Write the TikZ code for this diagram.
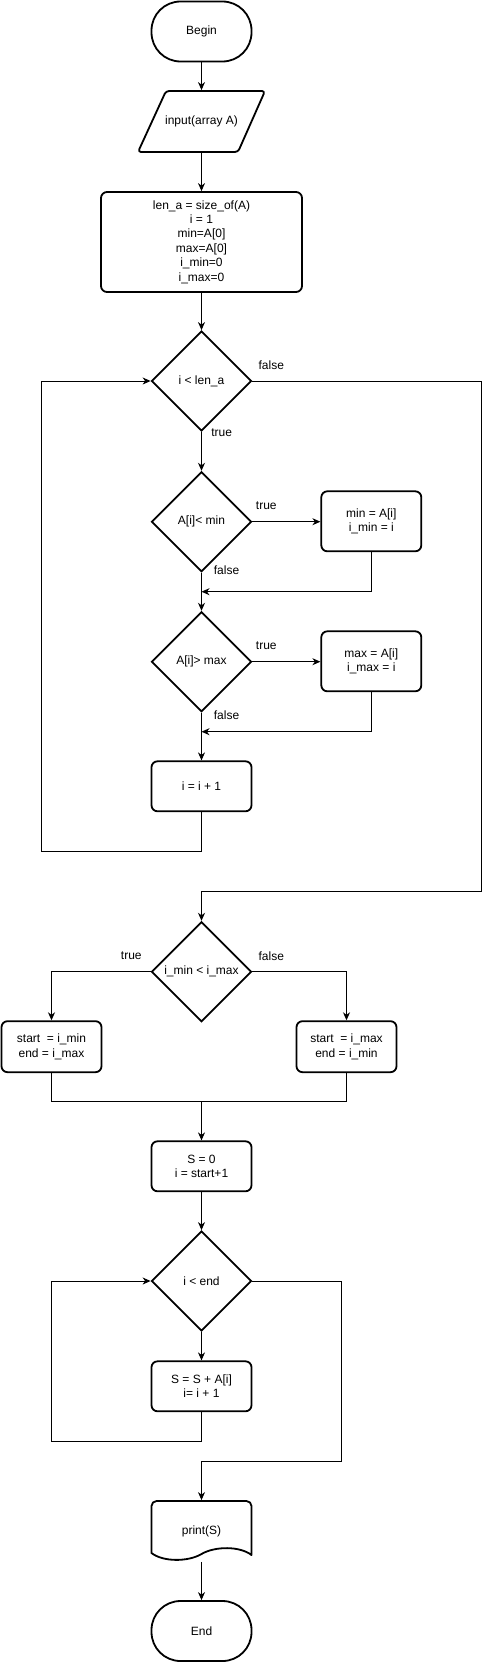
\documentclass[tikz,border=0pt]{standalone}
\usepackage{fontspec}
\setmainfont{Liberation Sans}
\usetikzlibrary{shapes.geometric,arrows.meta}
\begin{document}
\begin{tikzpicture}[x=1pt,y=-1pt,
  every node/.style={font=\fontsize{12}{14.4}\selectfont},
  shp/.style={draw, line width=1.8pt, align=center, inner sep=0pt},
  proc/.style={shp, rectangle, rounded corners=6pt, minimum width=100pt, minimum height=60pt},
  term/.style={shp, rectangle, rounded corners=29pt, minimum width=100pt, minimum height=60pt},
  dec/.style={shp, diamond, minimum width=100pt, minimum height=100pt},
  ghost/.style={rectangle, inner sep=0pt, outer sep=0.9pt, align=center, minimum width=100pt, minimum height=60pt},
  conn/.style={line width=1pt},
  arr/.style={conn, -{Stealth[length=8pt,width=7pt,inset=2.5pt]}},
  lbl/.style={inner sep=0pt},
  outline/.style={line width=1.8pt, line join=round},
]
\useasboundingbox (0,0) rectangle (490,1662);

% nodes
\node[term] (begin) at (201.5,31.5) {Begin};
\node[ghost, minimum height=61pt] (input) at (201.5,121.5) {input(array A)};
\draw[outline, rounded corners=3pt] (166,91) -- (265,91) -- (238,152) -- (138,152) -- cycle;
\node[proc, minimum width=201pt, minimum height=100pt] (init) at (201.5,242)
  {len\_a = size\_of(A)\\ i = 1\\ min=A[0]\\ max=A[0]\\ i\_min=0\\ i\_max=0};
\node[dec] (d1) at (201.5,381) {i < len\_a};
\node[dec] (d2) at (201.5,521.7) {A[i]< min};
\node[proc] (boxmin) at (371.3,521.3) {min = A[i]\\ i\_min = i};
\node[dec] (d3) at (201.5,661.7) {A[i]> max};
\node[proc] (boxmax) at (371.3,661.3) {max = A[i]\\ i\_max = i};
\node[proc, minimum height=50pt] (inc) at (201.5,786.3) {i = i + 1};
\node[dec] (d4) at (201.5,971.7) {i\_min < i\_max};
\node[proc, minimum height=51pt] (lbox) at (51.5,1046.7) {start\ \ = i\_min\\ end = i\_max};
\node[proc, minimum height=51pt] (rbox) at (346.5,1046.7) {start\ \ = i\_max\\ end = i\_min};
\node[proc, minimum height=50pt] (s0) at (201.5,1166.3) {S = 0\\ i = start+1};
\node[dec] (d5) at (201.5,1281) {i < end};
\node[proc, minimum height=50pt] (sum) at (201.5,1386.3) {S = S + A[i]\\ i= i + 1};
\node[ghost] (print) at (201.5,1531) {print(S)};
\draw[outline] (151.5,1553) [rounded corners=5pt]-- (151.5,1501) -- (251.5,1501) -- (251.5,1530) [sharp corners]-- (251.5,1555)
  .. controls (240,1546) and (215,1546) .. (201.5,1554)
  .. controls (188,1562) and (163,1562) .. (151.5,1553) -- cycle;
\node[term] (end) at (201.5,1631) {End};

% labels
\node[lbl] (t1) at (221.7,433) {true};
\node[lbl] (f1) at (271.3,365.7) {false};
\node[lbl] (t2) at (266.3,505.7) {true};
\node[lbl] (f2) at (226.5,570.7) {false};
\node[lbl] (t3) at (266.3,645.7) {true};
\node[lbl] (f3) at (226.5,715.7) {false};
\node[lbl] (t4) at (131.3,955.7) {true};
\node[lbl] (f4) at (271.3,955.7) {false};

% coordinates
\coordinate (j1) at (201.5,591.7);
\coordinate (j2) at (201.5,731.7);
\coordinate (l1a) at (201.5,851);
\coordinate (l1b) at (41.3,381);
\coordinate (r1) at (481.7,381);
\coordinate (r2) at (201.5,891.3);
\coordinate (m) at (201.5,1101);
\coordinate (l2a) at (201.5,1441.3);
\coordinate (l2b) at (51.3,1281);
\coordinate (r3) at (341.3,1281);
\coordinate (r4) at (201.5,1461.3);

% connectors
\draw[arr] (begin) -- (input);
\draw[arr] (input) -- (init);
\draw[arr] (init) -- (d1);
\draw[arr] (d1) -- (d2);
\draw[arr] (d2.east) -- (d2.east -| boxmin.west);
\draw[arr] (boxmin.south) |- (j1);
\draw[arr] (d2) -- (d3);
\draw[arr] (d3.east) -- (d3.east -| boxmax.west);
\draw[arr] (boxmax.south) |- (j2);
\draw[arr] (d3) -- (inc);
\draw[arr] (inc.south) -- (l1a) -| (l1b) -- (d1.west);
\draw[arr] (d1.east) -- (r1) |- (r2) -- (d4);
\draw[arr] (d4.west) -| (lbox.north);
\draw[arr] (d4.east) -| (rbox.north);
\draw[conn] (lbox.south) |- (m) -| (rbox.south);
\draw[arr] (m) -- (s0);
\draw[arr] (s0) -- (d5);
\draw[arr] (d5) -- (sum);
\draw[arr] (sum.south) -- (l2a) -| (l2b) -- (d5.west);
\draw[arr] (d5.east) -- (r3) |- (r4) -- (print.north);
\draw[arr] (print.south) -- (end);
\end{tikzpicture}
\end{document}
